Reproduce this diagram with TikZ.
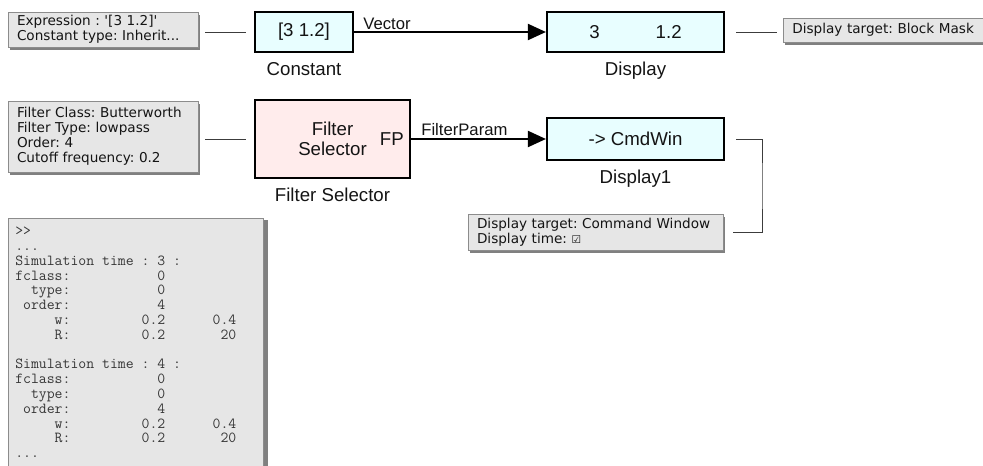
\documentclass[tikz,border=0pt]{standalone}
\usepackage{fontspec}
\setmainfont{Liberation Sans}
\newfontfamily\notefont{DejaVu Sans}
\usetikzlibrary{positioning,arrows.meta,shadows}
\definecolor{colornote}     {RGB}{230,230,230}
\definecolor{colornoteedge} {RGB}{140,140,140}
\definecolor{colorshadow}   {RGB}{128,128,128}
\definecolor{colorvalue}    {RGB}{232,254,255}
\definecolor{colorfilter}   {RGB}{255,236,236}
\definecolor{colortext}     {RGB}{ 20, 20, 20}
\definecolor{colorlink}     {RGB}{ 60, 60, 60}

% blank columns in the console listing
\newcommand{\colgap}[1]{\hspace*{#1\fontcharwd\font`\x}}
\frenchspacing

\begin{document}
\begin{tikzpicture}[
    x=0.75pt, y=-0.75pt,
    font={\fontsize{14}{15}\selectfont},
    base/.style={text=colortext,draw=black,line width=1.6pt,inner sep=0pt,align=center,rectangle},
    valueblk/.style={base,fill=colorvalue},
    filterblk/.style={base,fill=colorfilter},
    blklabel/.style={text=colortext,inner sep=0pt,below=6.5pt of #1},
    siglabel/.style={text=colortext,inner sep=0pt,font={\fontsize{12.5}{14}\selectfont},anchor=base west},
    note/.style={text=colortext,fill=colornote,draw=colornoteedge,line width=0.6pt,
        inner xsep=6.75pt,inner ysep=0pt,align=left,text width=#1,
        font={\notefont\fontsize{10.2}{11.25}\selectfont},
        general shadow={fill=colorshadow,draw=none,shadow xshift=1.5pt,shadow yshift=-2.25pt}},
    console/.style={fill=colornote,draw=colornoteedge,line width=0.6pt,inner sep=0pt,anchor=north west,
        general shadow={fill=colorshadow,draw=none,shadow xshift=3.75pt,shadow yshift=-1.5pt}},
    listing/.style={text=colortext!85,inner sep=0pt,align=left,anchor=north west,
        font={\ttfamily\fontsize{11.5}{11.1}\selectfont}},
    wire/.style={line width=1.5pt,-{Triangle[length=13.5pt,width=12pt]}},
    noteline/.style={colorlink,line width=0.75pt},
]

    \useasboundingbox (0,0) rectangle (983,465);
    \clip (0,0) rectangle (983,465);

    % first row: constant into display
    \node[valueblk,minimum width=73.5pt,minimum height=30pt] (constblk) at (304,32) {[3 1.2]};
    \node[valueblk,minimum width=132.75pt,minimum height=30pt] (dispblk) at (635.5,32) {3\hspace{42pt}1.2};
    \node[blklabel=constblk] (constlbl) {Constant};
    \node[blklabel=dispblk] (displbl) {Display};

    \draw[wire] (constblk) -- (dispblk);
    \node[siglabel] (vectorlbl) at ([shift={(9,-3)}]constblk.east) {Vector};

    \node[note=129pt,minimum width=142.5pt,minimum height=26.25pt] (exprnote) at (103,29.5)
        {Expression : '[3 1.2]'\\Constant type: Inherit...};
    \node[note=151.5pt,minimum width=165pt,minimum height=18pt,anchor=west] (masknote) at (783,30)
        {Display target: Block Mask};

    \draw[noteline,shorten <=5.25pt,shorten >=6pt] (exprnote.east |- constblk.west) -- (constblk.west);
    \draw[noteline,shorten <=8.25pt,shorten >=4.5pt] (dispblk.east) -- (dispblk.east -| masknote.west);

    % second row: filter selector into command window display
    \node[filterblk,minimum width=116.25pt,minimum height=58.5pt] (filtblk) at (332.5,139) {Filter\\Selector};
    \node[text=colortext,inner sep=0pt,anchor=east] (fpport) at ([xshift=-5.25pt]filtblk.east) {FP};
    \node[valueblk,minimum width=132.75pt,minimum height=31.5pt] (cmdblk) at (635.5,139) {-> CmdWin};
    \node[blklabel=filtblk] (filtlbl) {Filter Selector};
    \node[blklabel=cmdblk] (cmdlbl) {Display1};

    \draw[wire] (filtblk) -- (cmdblk);
    \node[siglabel] (paramlbl) at ([shift={(10,-3.5)}]filtblk.east) {FilterParam};

    \node[note=129pt,minimum width=142.5pt,minimum height=53.25pt] (filternote) at (103,136.5)
        {Filter Class: Butterworth\\Filter Type: lowpass\\Order: 4\\Cutoff frequency: 0.2};
    \node[note=177.75pt,minimum width=191.25pt,minimum height=27pt] (cmdnote) at (595.5,232)
        {Display target: Command Window\\Display time: {\fontsize{8}{8}\selectfont☑}};

    \draw[noteline,shorten <=5.25pt,shorten >=6pt] (filternote.east |- filtblk.west) -- (filtblk.west);
    \coordinate (bend) at (762,186);
    \draw[noteline,shorten <=8.25pt,shorten >=7.5pt] (cmdblk.east) -| (bend) |- (cmdnote.east);

    % command window output
    \node[console,minimum width=191.25pt,minimum height=195pt] (console) at (8,218) {};
    \node[listing] (consoletxt) at (15,225) {\strut>>\\
        ...\\
        Simulation time : 3 :\\
        fclass:\colgap{11}0\\
        \colgap{2}type:\colgap{11}0\\
        \colgap{1}order:\colgap{11}4\\
        \colgap{5}w:\colgap{9}0.2\colgap{6}0.4\\
        \colgap{5}R:\colgap{9}0.2\colgap{7}20\\
        \strut\\
        Simulation time : 4 :\\
        fclass:\colgap{11}0\\
        \colgap{2}type:\colgap{11}0\\
        \colgap{1}order:\colgap{11}4\\
        \colgap{5}w:\colgap{9}0.2\colgap{6}0.4\\
        \colgap{5}R:\colgap{9}0.2\colgap{7}20\\
        ...};

\end{tikzpicture}
\end{document}
